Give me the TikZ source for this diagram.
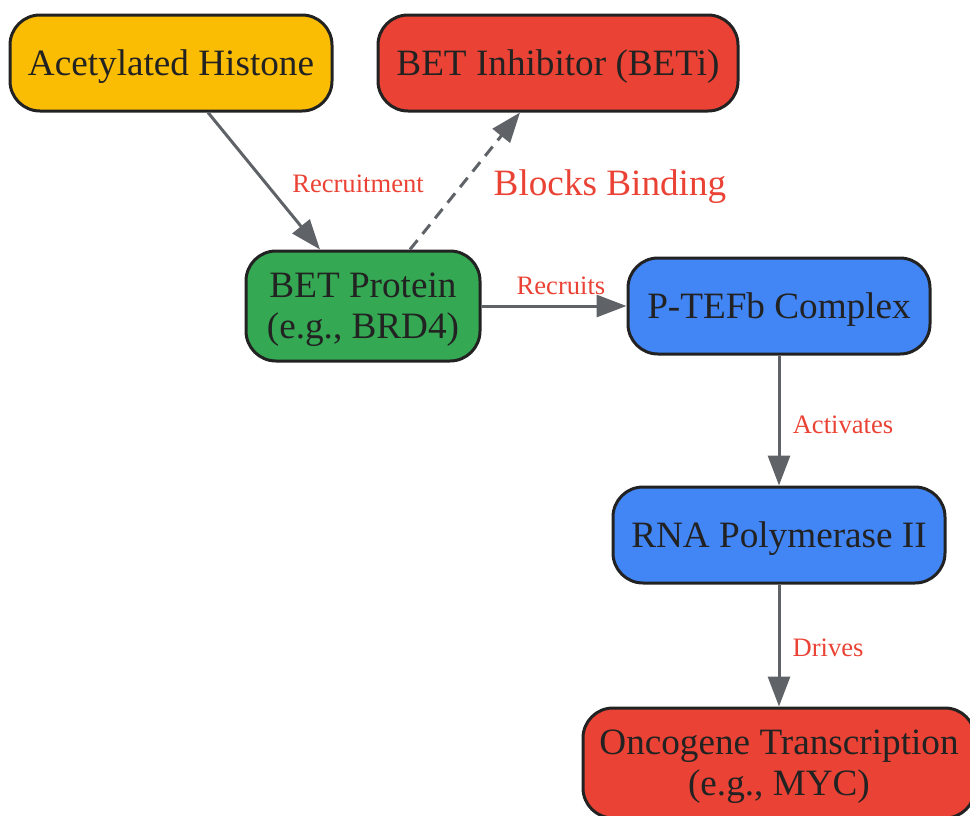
\documentclass[tikz,border=0pt]{standalone}
\usepackage{fontspec}
\setmainfont{Liberation Serif}
\usetikzlibrary{arrows.meta}
\definecolor{histyellow}{HTML}{FBBC04}
\definecolor{betred}{HTML}{EA4335}
\definecolor{betgreen}{HTML}{34A853}
\definecolor{pathblue}{HTML}{4285F4}
\definecolor{edgegray}{HTML}{5F6368}
\definecolor{textdark}{HTML}{222222}

\begin{document}
\begin{tikzpicture}[line cap=round,line join=round,>={Triangle[length=15pt,width=11pt]},x=0.5pt,y=-0.5pt,
  box/.style={draw=textdark,line width=1.5pt,rounded corners=15pt,inner sep=0pt,align=center,
    text=textdark,text depth=0pt,font=\fontsize{18.6}{20.5}\selectfont},
  link/.style={->,draw=edgegray,line width=1.5pt,line cap=butt},
  lbl/.style={text=betred,inner sep=0pt,font=\fontsize{13.3}{15}\selectfont}]
\clip (0,0) rectangle (970,815);
\node[box,fill=histyellow,minimum width=161pt,minimum height=48pt] (histone) at (171,63) {Acetylated Histone};
\node[box,fill=betred,minimum width=180pt,minimum height=48pt] (beti) at (558,63) {BET Inhibitor (BETi)};
\node[box,fill=betgreen,minimum width=117pt,minimum height=55pt] (bet) at (363,306) {BET Protein\\(e.g., BRD4)};
\node[box,fill=pathblue,minimum width=151pt,minimum height=48pt] (ptefb) at (779,306) {P-TEFb Complex};
\node[box,fill=pathblue,minimum width=166pt,minimum height=48pt] (pol) at (779,535) {RNA Polymerase II};
\node[box,fill=betred,minimum width=196pt,minimum height=55pt] (onco) at (779,763) {Oncogene Transcription\\(e.g., MYC)};
% connectors
\draw[link] ([xshift=18.5pt]histone.south) -- ([xshift=-21.5pt]bet.north);
\draw[link,dash pattern=on 6pt off 4pt] ([xshift=23.5pt]bet.north) -- ([xshift=-19pt]beti.south);
\draw[link] (bet.east) -- (ptefb.west);
\draw[link] (ptefb.south) -- (pol.north);
\draw[link] (pol.south) -- (onco.north);
% labels
\node[lbl] (lrecruitment) at (358,184) {Recruitment};
\node[lbl,font=\fontsize{18.6}{20}\selectfont] (lblocks) at (610,187) {Blocks Binding};
\node[lbl] (lrecruits) at (561,286) {Recruits};
\node[lbl] (lactivates) at (843,425) {Activates};
\node[lbl] (ldrives) at (828,648) {Drives};
\end{tikzpicture}
\end{document}
